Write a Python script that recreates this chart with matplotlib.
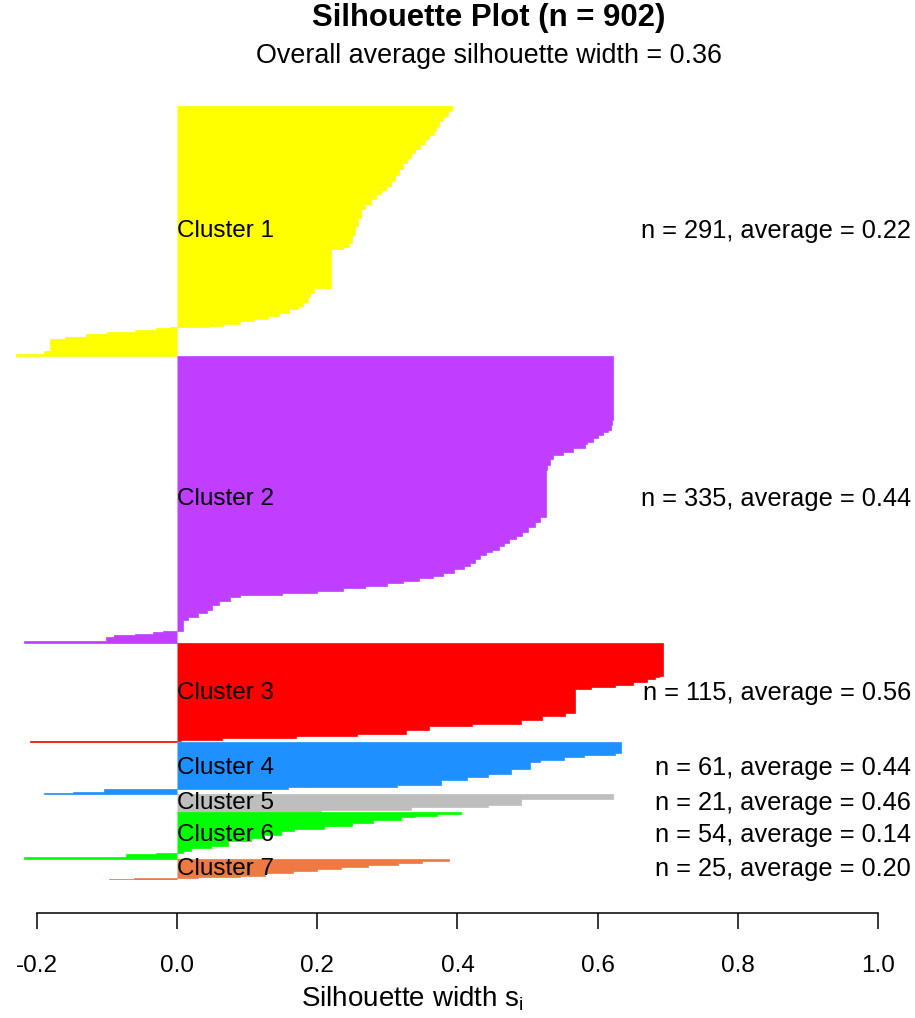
import numpy as np
import matplotlib
matplotlib.use("Agg")
import matplotlib.pyplot as plt

plt.rcParams['font.family'] = ['Liberation Sans', 'DejaVu Sans']

# Silhouette widths per cluster, stored as runs: (run length, width), sorted descending
c1_counts = [6, 6, 6, 6, 5, 5, 5, 5, 6, 5, 6, 6, 6, 7, 6, 7, 5, 5, 5, 6, 6,
             10, 10, 10, 10, 4, 3, 45, 6, 5, 5, 5, 4, 4, 4, 3, 3, 3, 2, 2,
             1, 2, 2, 3, 3, 3, 14, 3, 2]
c1_values = [.392, .386, .380, .374, .370, .366, .360, .354, .347, .340, .334,
             .328, .322, .316, .311, .305, .298, .291, .284, .276, .268,
             .263, .258, .254, .249, .245, .236, .219, .195, .190, .186, .180,
             .172, .160, .145, .130, .110, .090, .065, .045,
             -.010, -.030, -.060, -.100, -.130, -.160, -.182, -.190, -.230]

c2_counts = [75, 6, 5, 3, 3, 4, 4, 3, 5, 4, 4, 4, 7, 6, 55, 6, 6, 6, 4, 4, 4,
             4, 4, 3, 3, 5, 4, 4, 4, 4, 4, 2, 3, 3, 3, 3, 3, 2, 3, 2, 5, 5,
             5, 4, 4, 4, 13, 1, 2, 2, 2, 5, 2]
c2_values = [.622, .621, .619, .615, .608, .600, .593, .585, .582, .565, .550,
             .537, .532, .528, .527, .518, .510, .500, .492, .483, .474, .466,
             .459, .449, .440, .432, .425, .418, .410, .395, .380, .365, .345,
             .322, .300, .268, .237, .200, .150, .090, .075, .060, .050, .042,
             .030, .015, .008, -.020, -.035, -.060, -.090, -.102, -.219]

c3_counts = [38, 2, 2, 3, 4, 2, 2, 28, 4, 4, 5, 3, 4, 5, 2, 2, 3, 1, 1]
c3_values = [.693, .688, .682, .670, .650, .625, .590, .567, .553, .520, .490,
             .420, .360, .327, .256, .170, .064, .005, -.210]

c4_counts = [13, 2, 3, 3, 3, 8, 5, 4, 4, 5, 3, 2, 3, 2, 1]
c4_values = [.633, .625, .580, .552, .518, .504, .476, .443, .414, .376, .314,
             .158, -.105, -.149, -.190]

c5_counts = [6, 7, 2, 3, 3]
c5_values = [.622, .490, .443, .333, .205]

c6_counts = [2, 2, 2, 3, 3, 4, 3, 3, 4, 4, 4, 5, 3, 3, 2, 2, 3, 2]
c6_values = [.405, .371, .340, .319, .280, .250, .210, .167, .148, .124, .105,
             .072, .048, .020, .008, -.030, -.073, -.218]

c7_counts = [3, 2, 2, 3, 2, 2, 3, 3, 2, 1, 1, 1]
c7_values = [.388, .350, .315, .272, .234, .200, .165, .125, .090, .030,
             -.061, -.097]

cluster_names = ["Cluster 1", "Cluster 2", "Cluster 3", "Cluster 4",
                 "Cluster 5", "Cluster 6", "Cluster 7"]
cluster_colors = ["#FFFF00", "#BF3EFF", "#FF0000", "#1E90FF",
                  "#BEBEBE", "#00FF00", "#EE7942"]
x_ticks = [-0.2, 0.0, 0.2, 0.4, 0.6, 0.8, 1.0]
x_tick_labels = ["-0.2", "0.0", "0.2", "0.4", "0.6", "0.8", "1.0"]

runs = [(c1_counts, c1_values), (c2_counts, c2_values), (c3_counts, c3_values),
        (c4_counts, c4_values), (c5_counts, c5_values), (c6_counts, c6_values),
        (c7_counts, c7_values)]

W, H = 915, 1018
fig = plt.figure(figsize=(W / 100, H / 100), dpi=100)
left_px, right_px = 1.96, 906.0
top_px, bottom_px = 106.0, 880.0
ax = fig.add_axes([left_px / W, 1 - bottom_px / H,
                   (right_px - left_px) / W, (bottom_px - top_px) / H])

fs = 17.5
start = 0
all_widths = []
for name, color, (counts, vals) in zip(cluster_names, cluster_colors, runs):
    s = np.repeat(np.array(vals, dtype=float), counts)
    edges = start + np.arange(len(s) + 1)
    ax.stairs(s, edges, orientation='horizontal', baseline=0, fill=True,
              facecolor=color, edgecolor=color, linewidth=0.5)
    mid = start + len(s) / 2
    ax.text(0.0, mid, name, ha='left', va='center', fontsize=fs, color='black')
    ax.text(1.047, mid, f"n = {len(s)}, average = {s.mean():.2f}",
            ha='right', va='center', fontsize=18.3, color='black',
            clip_on=False)
    all_widths.append(s)
    start += len(s)

widths = np.concatenate(all_widths)

ax.set_xlim(-0.25, 1.04)
ax.set_ylim(start, 0)
for side in ('left', 'top', 'right'):
    ax.spines[side].set_visible(False)
ax.spines['bottom'].set_position(('outward', 23.8))
ax.spines['bottom'].set_bounds(-0.2, 1.0)
ax.spines['bottom'].set_linewidth(1.1)
ax.set_yticks([])
ax.set_xticks(x_ticks)
ax.set_xticklabels(x_tick_labels)
ax.tick_params(axis='x', direction='out', length=11.5, width=1.1, pad=19,
               labelsize=fs, colors='black')
ax.patch.set_visible(False)

fig.text(489 / W, 1 - 18 / H, f"Silhouette Plot (n = {len(widths)})",
         ha='center', va='center', fontsize=22.4, fontweight='bold')
fig.text(489 / W, 1 - 56 / H,
         f"Overall average silhouette width = {widths.mean():.2f}",
         ha='center', va='center', fontsize=19.4)
fig.text(412 / W, 1 - 999 / H, "Silhouette width $\\mathregular{s_i}$",
         ha='center', va='center', fontsize=20)

fig.savefig("out.png", dpi=100)
